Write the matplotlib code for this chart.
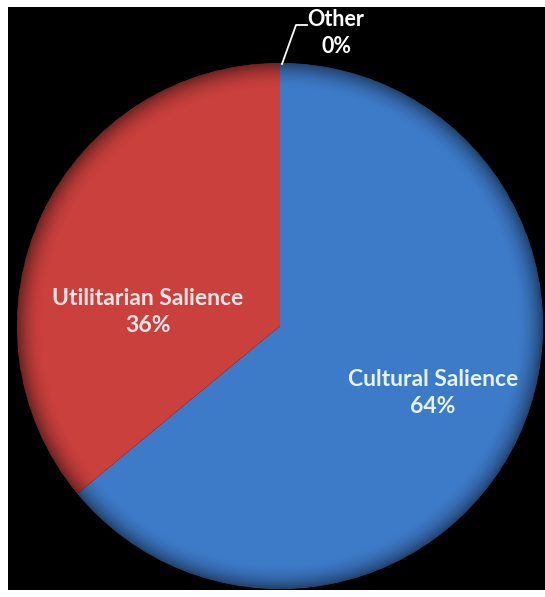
import matplotlib.pyplot as plt
import matplotlib.patches as mpatches
import numpy as np

# data
categories = ['Other', 'Cultural Salience', 'Utilitarian Salience']
values = [0, 64, 36]
colors = ['#6aa84f', '#3d7ac8', '#c9403d']
label_colors = ['white', '#e4f4ff', '#ffe6e6']

fig = plt.figure(figsize=(5.45, 5.97), dpi=100, facecolor='white')
ax = fig.add_axes([8 / 545, 7 / 597, 537 / 545, 583 / 597])
ax.set_facecolor('black')
ax.set_xticks([])
ax.set_yticks([])
for s in ax.spines.values():
    s.set_visible(False)

cx, cy, R = 280, 271, 263
wedges, _ = ax.pie(values, colors=colors, startangle=90, counterclock=False,
                   center=(cx, cy), radius=R, frame=True,
                   wedgeprops=dict(linewidth=0))

# darker rim to mimic the shaded look
n = 600
xs = np.linspace(cx - R, cx + R, n)
ys = np.linspace(cy - R, cy + R, n)
X, Y = np.meshgrid(xs, ys)
rr = np.sqrt((X - cx) ** 2 + (Y - cy) ** 2) / R
shade = np.zeros((n, n, 4))
shade[..., 3] = 0.45 * np.clip((rr - 0.9) / 0.1, 0, 1) ** 2
im = ax.imshow(shade, extent=(cx - R, cx + R, cy - R, cy + R), origin='lower',
               zorder=3, interpolation='bilinear')
im.set_clip_path(mpatches.Circle((cx, cy), R, transform=ax.transData))
ax.set_xlim(8, 545)
ax.set_ylim(7, 590)
ax.set_aspect('equal')

total = sum(values)
font = ['Lato', 'DejaVu Sans']
label_pos = {'Cultural Salience': (433, 204), 'Utilitarian Salience': (148, 285)}
for cat, v, lc in zip(categories, values, label_colors):
    txt = f"{cat}\n{v / total * 100:.0f}%"
    if cat == 'Other':
        ax.text(336, 564, txt, ha='center', va='center', color='white',
                fontsize=15.5, family=font, weight='bold', linespacing=1.4, zorder=5)
        ax.plot([282, 296, 307], [cy + R - 1, 572, 572], color='white', lw=1.3, zorder=5)
    else:
        x, y = label_pos[cat]
        ax.text(x, y, txt, ha='center', va='center', color=lc,
                fontsize=16.5, family=font, weight='bold', linespacing=1.4, zorder=5)

fig.savefig('out.png', dpi=100, facecolor='white')
